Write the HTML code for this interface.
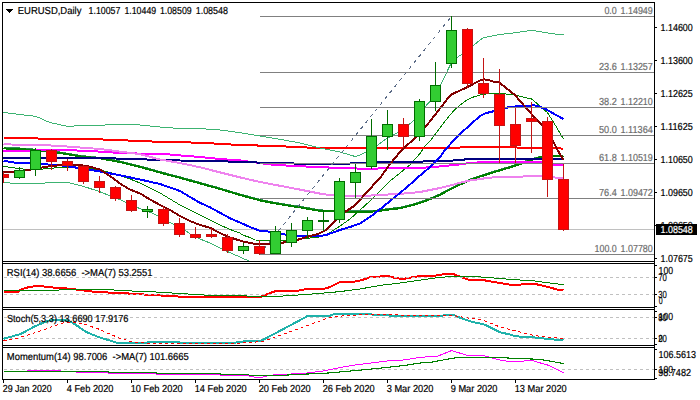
<!DOCTYPE html>
<html><head><meta charset="utf-8"><title>EURUSD Daily</title>
<style>html,body{margin:0;padding:0;background:#fff;overflow:hidden}svg{display:block;font-family:'Liberation Sans', sans-serif;}text{white-space:pre;stroke-width:0.2px;text-rendering:geometricPrecision}</style></head><body>
<svg width="700" height="400" viewBox="0 0 700 400" shape-rendering="crispEdges">
<rect width="700" height="400" fill="#fff"/>
<defs><clipPath id="cm"><rect x="3" y="3" width="651" height="258.2"/></clipPath><clipPath id="cr"><rect x="3" y="264" width="651" height="43"/></clipPath><clipPath id="cs"><rect x="3" y="310" width="651" height="35"/></clipPath><clipPath id="cq"><rect x="3" y="348" width="651" height="31.2"/></clipPath></defs>
<g clip-path="url(#cm)">
<line x1="3" y1="229.5" x2="654" y2="229.5" stroke="#c0c0c0" stroke-width="1"/>
<polyline points="3.5,166.2 10.0,167.4 20.0,168.7 28.0,169.6 40.0,169.2 48.0,168.7 60.0,167.4 70.0,167.0 85.0,167.6 100.0,170.0 112.0,173.0 130.0,179.0 140.0,183.0 160.0,193.0 180.0,205.0 200.0,215.0 220.0,225.0 230.0,229.5 240.0,233.0 242.6,235.0 250.0,237.5 255.0,240.0 262.7,240.2 269.0,240.8 286.0,240.0 300.0,239.0 306.7,238.3 310.0,238.0 318.0,237.4 320.0,236.6 326.0,235.0 340.0,226.0 350.0,219.0 360.0,210.0 370.0,201.0 380.0,191.0 390.0,181.0 400.0,173.0 410.0,164.8 420.0,153.5 425.0,146.0 430.0,141.0 440.0,128.0 446.0,120.0 450.0,115.0 455.0,109.3 460.0,105.2 465.0,101.3 470.0,98.3 475.0,96.5 480.0,95.0 490.0,93.4 500.0,93.4 510.0,94.4 515.5,95.2 531.5,99.0 539.5,105.5 547.5,112.7 555.5,125.5 563.5,139.0" fill="none" stroke="#008000" stroke-width="1" stroke-linejoin="round" />
<polyline points="3.5,147.9 20.0,148.5 50.0,150.9 66.0,153.5 80.0,155.9 100.0,157.9 120.0,161.5 140.0,166.4 160.0,172.1 180.0,177.3 200.0,182.9 220.0,188.5 240.0,194.5 260.0,199.9 270.0,201.9 280.0,203.7 300.0,206.9 320.0,210.3 330.0,210.9 350.0,211.3 370.0,211.4 380.0,210.2 390.0,208.9 400.0,207.7 410.0,205.4 420.0,202.4 430.0,198.7 440.0,194.4 450.0,188.9 460.0,184.1 470.0,179.6 480.0,176.1 490.0,172.9 500.0,169.9 510.0,166.9 520.0,163.5 530.0,159.9 540.0,156.9 555.0,155.9 563.5,155.6" fill="none" stroke="#2e8b57" stroke-width="2.0" stroke-linejoin="round" />
<polyline points="3.5,148.4 20.0,149.0 50.0,151.4 66.0,154.0 80.0,156.4 100.0,158.4 120.0,162.0 140.0,166.9 160.0,172.6 180.0,177.8 200.0,183.4 220.0,189.0 240.0,195.0 260.0,200.4 270.0,202.4 280.0,204.2 300.0,207.4 320.0,210.8 330.0,211.4 350.0,211.8 370.0,211.9 380.0,210.7 390.0,209.4 400.0,208.2 410.0,205.9 420.0,202.9 430.0,199.2 440.0,194.9 450.0,189.4 460.0,184.6 470.0,180.1 480.0,176.6 490.0,173.4 500.0,170.4 510.0,167.4 520.0,164.0 530.0,160.4 540.0,157.4 555.0,156.4 563.5,156.1" fill="none" stroke="#008000" stroke-width="2.0" stroke-linejoin="round" />
<polyline points="3.5,151.0 30.0,150.8 40.0,150.2 66.0,150.0 100.0,151.6 120.0,153.0 140.0,153.6 164.0,154.0 180.0,155.4 200.0,157.0 220.0,159.0 240.0,160.4 270.0,164.4 280.0,165.2 308.0,166.6 340.0,168.0 360.0,168.6 400.0,168.4 420.0,168.0 440.0,166.4 460.0,164.4 470.0,162.8 484.0,162.2 500.0,162.0 531.5,162.0 541.0,162.3 547.5,164.2 553.5,164.7 563.5,164.8" fill="none" stroke="#ff00ff" stroke-width="2.0" stroke-linejoin="round" />
<polyline points="3.5,158.0 100.0,158.2 115.5,158.5 130.0,158.9 147.0,159.5 180.0,160.5 228.0,161.5 260.0,162.6 280.0,163.0 308.0,164.0 340.0,164.0 360.0,163.0 390.0,162.0 420.0,161.6 452.0,160.6 468.0,159.2 500.0,159.0 563.5,159.0" fill="none" stroke="#000080" stroke-width="2.0" stroke-linejoin="round" />
<polyline points="3.5,144.2 11.0,144.5 51.0,145.5 67.0,146.5 100.0,149.0 120.0,151.6 140.0,154.2 160.0,159.5 180.0,163.0 200.0,167.3 220.0,172.4 240.0,177.4 260.0,182.0 280.0,185.8 300.0,189.6 320.0,193.6 330.0,195.2 345.0,196.0 365.0,195.8 371.0,195.5 388.0,194.5 400.0,193.9 420.0,192.0 430.0,190.0 440.0,188.0 450.0,185.5 460.0,182.8 470.0,180.5 480.0,179.0 490.0,177.6 500.0,177.2 520.0,176.6 540.0,176.0 555.0,177.5 563.5,178.0" fill="none" stroke="#ee82ee" stroke-width="2.0" stroke-linejoin="round" />
<polyline points="3.5,138.0 36.0,138.0 40.0,139.0 100.0,139.4 130.0,140.6 140.0,141.0 164.0,142.0 196.0,142.6 212.0,143.4 228.0,144.4 260.0,145.6 280.0,146.0 292.0,147.0 322.0,148.0 360.0,148.0 420.0,148.0 450.0,148.0 462.0,147.4 500.0,147.3 540.0,147.8 563.5,148.6" fill="none" stroke="#ff0000" stroke-width="2.0" stroke-linejoin="round" />
<polyline points="3.5,160.8 8.0,161.5 14.0,162.5 30.0,163.4 43.0,164.2 60.0,165.2 66.0,166.0 80.0,168.2 100.0,171.5 120.0,175.3 140.0,179.5 160.0,184.0 180.0,191.0 190.0,197.0 200.0,202.8 210.0,207.3 220.0,212.8 230.0,218.2 240.0,222.6 250.0,227.0 260.0,230.8 270.0,231.7 275.5,232.2 286.0,234.7 291.5,235.8 297.0,235.8 313.0,236.0 320.0,236.0 326.0,235.0 340.0,230.0 350.0,227.0 360.0,223.4 370.0,217.0 380.0,209.3 390.0,201.0 400.0,193.0 410.0,184.5 420.0,175.5 430.0,167.0 440.0,157.2 445.0,150.0 450.0,144.5 460.0,134.0 470.0,125.0 480.0,116.0 485.0,113.6 490.0,112.0 495.0,111.0 505.0,108.0 510.0,107.0 520.0,106.0 530.0,105.6 535.0,105.4 540.0,107.0 545.0,108.8 550.0,111.6 555.0,114.5 563.5,119.0" fill="none" stroke="#0000ff" stroke-width="2.0" stroke-linejoin="round" />
<polyline points="3.5,172.0 20.0,171.3 36.0,168.6 50.0,166.2 66.0,164.6 80.0,165.0 90.0,166.6 100.0,169.6 110.0,176.0 120.0,183.6 130.0,189.6 140.0,193.4 150.0,199.5 160.0,205.0 170.0,210.0 180.0,216.0 190.0,221.0 200.0,225.0 210.0,227.8 220.0,233.0 230.0,237.6 232.8,238.3 242.6,241.4 255.2,244.0 267.7,244.0 281.0,243.0 286.0,242.0 297.0,240.0 305.5,237.4 318.0,233.9 326.0,230.0 334.0,222.0 345.0,212.0 354.0,206.0 360.0,200.0 365.0,194.0 370.0,189.0 375.0,183.0 380.0,178.0 390.0,164.0 400.0,152.0 403.5,148.5 410.0,142.6 414.0,139.0 419.5,134.0 425.0,127.5 431.0,120.0 435.5,114.2 441.0,107.1 450.0,95.6 451.5,94.4 460.0,90.5 467.5,87.1 476.0,82.5 480.0,80.6 483.5,79.3 487.0,79.7 493.0,81.5 499.5,82.5 503.0,85.5 510.0,91.0 515.5,95.5 520.0,101.0 524.0,105.5 527.5,109.5 531.5,113.9 540.0,123.3 547.5,131.6 553.0,141.0 557.0,149.0 563.5,160.0" fill="none" stroke="#800000" stroke-width="2.0" stroke-linejoin="round" />
<polyline points="3.5,112.4 19.5,114.5 36.0,116.4 50.0,122.6 66.0,126.0 74.0,126.0 100.0,125.6 110.0,124.4 131.5,124.4 140.0,125.0 160.0,127.0 180.0,128.6 200.0,128.6 220.0,130.0 240.0,132.6 260.0,136.0 280.0,139.3 300.0,143.0 320.0,148.0 340.0,152.0 355.5,156.6 360.0,155.0 366.0,152.0 371.5,149.6 378.0,145.0 385.0,139.5 387.5,138.4 395.0,134.0 400.0,131.0 403.5,129.0 409.0,124.6 414.2,120.0 419.5,114.5 425.0,106.8 430.3,101.1 435.5,95.0 441.0,83.8 450.3,65.0 451.5,62.5 457.0,57.5 462.3,54.0 467.5,50.4 473.0,45.8 480.5,39.6 483.5,37.6 490.0,36.4 499.5,34.4 510.0,33.4 515.5,32.7 520.0,32.0 531.5,30.3 540.0,31.6 547.5,33.0 550.0,33.4 563.5,35.0" fill="none" stroke="#3cb371" stroke-width="1" stroke-linejoin="round" />
<polyline points="3.5,182.4 19.5,184.0 35.5,183.3 51.5,182.8 67.5,182.5 75.0,184.2 83.5,186.4 99.5,191.6 115.5,198.0 120.0,199.6 131.5,205.5 140.0,208.5 147.5,211.5 152.0,213.0 163.5,219.0 172.0,223.5 179.5,227.5 185.0,230.0 190.0,234.0 195.5,236.5 200.0,239.0 210.0,243.0 211.5,243.6 220.0,248.0 227.5,251.6 230.0,252.7 240.0,257.0 243.5,258.8 248.0,260.5 259.5,266.0 275.5,270.0" fill="none" stroke="#3cb371" stroke-width="1" stroke-linejoin="round" />
<line x1="259.5" y1="16.5" x2="654" y2="16.5" stroke="#808080" stroke-width="1"/>
<line x1="259.5" y1="72.5" x2="654" y2="72.5" stroke="#808080" stroke-width="1"/>
<line x1="259.5" y1="107.5" x2="654" y2="107.5" stroke="#808080" stroke-width="1"/>
<line x1="259.5" y1="135.5" x2="654" y2="135.5" stroke="#808080" stroke-width="1"/>
<line x1="259.5" y1="163.5" x2="654" y2="163.5" stroke="#808080" stroke-width="1"/>
<line x1="259.5" y1="198.5" x2="654" y2="198.5" stroke="#808080" stroke-width="1"/>
<line x1="259.5" y1="254.5" x2="654" y2="254.5" stroke="#808080" stroke-width="1"/>
<line x1="259.5" y1="254.4" x2="451.5" y2="16.4" stroke="#5a6a86" stroke-width="1" stroke-dasharray="3.2 4.5" stroke-dashoffset="0.4"/>
<line x1="3.5" y1="172.0" x2="3.5" y2="183.0" stroke="#c41414" stroke-width="1.1"/>
<rect x="-1.5" y="174.1" width="9.8" height="3.0" fill="#ff0000" stroke="#c41414" stroke-width="1"/>
<line x1="19.5" y1="167.0" x2="19.5" y2="178.8" stroke="#006c00" stroke-width="1.1"/>
<rect x="14.5" y="170.5" width="9.8" height="6.6" fill="#32cd32" stroke="#006c00" stroke-width="1"/>
<line x1="35.5" y1="148.0" x2="35.5" y2="175.6" stroke="#006c00" stroke-width="1.1"/>
<rect x="30.5" y="150.1" width="9.8" height="19.8" fill="#32cd32" stroke="#006c00" stroke-width="1"/>
<line x1="51.5" y1="148.6" x2="51.5" y2="169.6" stroke="#c41414" stroke-width="1.1"/>
<rect x="46.5" y="150.5" width="9.8" height="10.6" fill="#ff0000" stroke="#c41414" stroke-width="1"/>
<line x1="67.5" y1="158.6" x2="67.5" y2="170.8" stroke="#c41414" stroke-width="1.1"/>
<rect x="62.5" y="161.7" width="9.8" height="4.1" fill="#ff0000" stroke="#c41414" stroke-width="1"/>
<line x1="83.5" y1="165.0" x2="83.5" y2="183.6" stroke="#c41414" stroke-width="1.1"/>
<rect x="78.5" y="166.5" width="9.8" height="14.6" fill="#ff0000" stroke="#c41414" stroke-width="1"/>
<line x1="99.5" y1="176.4" x2="99.5" y2="192.6" stroke="#c41414" stroke-width="1.1"/>
<rect x="94.5" y="181.9" width="9.8" height="5.2" fill="#ff0000" stroke="#c41414" stroke-width="1"/>
<line x1="115.5" y1="186.0" x2="115.5" y2="200.6" stroke="#c41414" stroke-width="1.1"/>
<rect x="110.5" y="187.9" width="9.8" height="10.2" fill="#ff0000" stroke="#c41414" stroke-width="1"/>
<line x1="131.5" y1="195.0" x2="131.5" y2="211.6" stroke="#c41414" stroke-width="1.1"/>
<rect x="126.5" y="200.5" width="9.8" height="9.6" fill="#ff0000" stroke="#c41414" stroke-width="1"/>
<line x1="147.5" y1="206.0" x2="147.5" y2="217.6" stroke="#006c00" stroke-width="1.1"/>
<rect x="142.5" y="209.5" width="9.8" height="1.6" fill="#32cd32" stroke="#006c00" stroke-width="1"/>
<line x1="163.5" y1="205.6" x2="163.5" y2="225.8" stroke="#c41414" stroke-width="1.1"/>
<rect x="158.5" y="209.7" width="9.8" height="13.7" fill="#ff0000" stroke="#c41414" stroke-width="1"/>
<line x1="179.5" y1="218.4" x2="179.5" y2="236.8" stroke="#c41414" stroke-width="1.1"/>
<rect x="174.5" y="223.5" width="9.8" height="10.8" fill="#ff0000" stroke="#c41414" stroke-width="1"/>
<line x1="195.5" y1="227.0" x2="195.5" y2="238.6" stroke="#c41414" stroke-width="1.1"/>
<rect x="190.5" y="234.9" width="9.8" height="2.2" fill="#ff0000" stroke="#c41414" stroke-width="1"/>
<line x1="211.5" y1="228.0" x2="211.5" y2="238.0" stroke="#c41414" stroke-width="1.1"/>
<rect x="206.5" y="234.9" width="9.8" height="1.2" fill="#ff0000" stroke="#c41414" stroke-width="1"/>
<line x1="227.5" y1="234.0" x2="227.5" y2="252.6" stroke="#c41414" stroke-width="1.1"/>
<rect x="222.5" y="237.1" width="9.8" height="13.3" fill="#ff0000" stroke="#c41414" stroke-width="1"/>
<line x1="243.5" y1="243.0" x2="243.5" y2="253.7" stroke="#006c00" stroke-width="1.1"/>
<rect x="238.5" y="246.9" width="9.8" height="3.2" fill="#32cd32" stroke="#006c00" stroke-width="1"/>
<line x1="259.5" y1="240.2" x2="259.5" y2="255.0" stroke="#c41414" stroke-width="1.1"/>
<rect x="254.5" y="246.9" width="9.8" height="6.3" fill="#ff0000" stroke="#c41414" stroke-width="1"/>
<line x1="275.5" y1="226.0" x2="275.5" y2="253.9" stroke="#006c00" stroke-width="1.1"/>
<rect x="270.5" y="231.9" width="9.8" height="21.3" fill="#32cd32" stroke="#006c00" stroke-width="1"/>
<line x1="291.5" y1="223.2" x2="291.5" y2="246.7" stroke="#006c00" stroke-width="1.1"/>
<rect x="286.5" y="230.8" width="9.8" height="12.0" fill="#32cd32" stroke="#006c00" stroke-width="1"/>
<line x1="307.5" y1="216.9" x2="307.5" y2="238.0" stroke="#006c00" stroke-width="1.1"/>
<rect x="302.5" y="220.8" width="9.8" height="9.4" fill="#32cd32" stroke="#006c00" stroke-width="1"/>
<line x1="323.5" y1="210.4" x2="323.5" y2="231.0" stroke="#006c00" stroke-width="1.1"/>
<rect x="318.5" y="220.5" width="9.8" height="0.6" fill="#32cd32" stroke="#006c00" stroke-width="1"/>
<line x1="339.5" y1="178.0" x2="339.5" y2="222.6" stroke="#006c00" stroke-width="1.1"/>
<rect x="334.5" y="181.5" width="9.8" height="38.4" fill="#32cd32" stroke="#006c00" stroke-width="1"/>
<line x1="355.5" y1="163.6" x2="355.5" y2="197.6" stroke="#006c00" stroke-width="1.1"/>
<rect x="350.5" y="172.7" width="9.8" height="9.8" fill="#32cd32" stroke="#006c00" stroke-width="1"/>
<line x1="371.5" y1="119.0" x2="371.5" y2="168.6" stroke="#006c00" stroke-width="1.1"/>
<rect x="366.5" y="136.9" width="9.8" height="29.5" fill="#32cd32" stroke="#006c00" stroke-width="1"/>
<line x1="387.5" y1="110.2" x2="387.5" y2="149.6" stroke="#006c00" stroke-width="1.1"/>
<rect x="382.5" y="124.0" width="9.8" height="12.4" fill="#32cd32" stroke="#006c00" stroke-width="1"/>
<line x1="403.5" y1="118.0" x2="403.5" y2="148.0" stroke="#c41414" stroke-width="1.1"/>
<rect x="398.5" y="124.8" width="9.8" height="11.6" fill="#ff0000" stroke="#c41414" stroke-width="1"/>
<line x1="419.5" y1="99.0" x2="419.5" y2="141.0" stroke="#006c00" stroke-width="1.1"/>
<rect x="414.5" y="101.8" width="9.8" height="34.6" fill="#32cd32" stroke="#006c00" stroke-width="1"/>
<line x1="435.5" y1="62.0" x2="435.5" y2="110.8" stroke="#006c00" stroke-width="1.1"/>
<rect x="430.5" y="85.6" width="9.8" height="15.8" fill="#32cd32" stroke="#006c00" stroke-width="1"/>
<line x1="451.5" y1="16.2" x2="451.5" y2="68.0" stroke="#006c00" stroke-width="1.1"/>
<rect x="446.5" y="30.7" width="9.8" height="33.2" fill="#32cd32" stroke="#006c00" stroke-width="1"/>
<line x1="467.5" y1="28.0" x2="467.5" y2="88.0" stroke="#c41414" stroke-width="1.1"/>
<rect x="462.5" y="29.7" width="9.8" height="54.2" fill="#ff0000" stroke="#c41414" stroke-width="1"/>
<line x1="483.5" y1="58.0" x2="483.5" y2="97.6" stroke="#c41414" stroke-width="1.1"/>
<rect x="478.5" y="83.5" width="9.8" height="10.4" fill="#ff0000" stroke="#c41414" stroke-width="1"/>
<line x1="499.5" y1="69.0" x2="499.5" y2="163.0" stroke="#c41414" stroke-width="1.1"/>
<rect x="494.5" y="94.5" width="9.8" height="31.0" fill="#ff0000" stroke="#c41414" stroke-width="1"/>
<line x1="515.5" y1="108.0" x2="515.5" y2="163.0" stroke="#c41414" stroke-width="1.1"/>
<rect x="510.5" y="124.9" width="9.8" height="20.4" fill="#ff0000" stroke="#c41414" stroke-width="1"/>
<line x1="531.5" y1="102.0" x2="531.5" y2="152.8" stroke="#c41414" stroke-width="1.1"/>
<rect x="526.5" y="118.7" width="9.8" height="2.3" fill="#ff0000" stroke="#c41414" stroke-width="1"/>
<line x1="547.5" y1="117.0" x2="547.5" y2="196.5" stroke="#c41414" stroke-width="1.1"/>
<rect x="542.5" y="121.8" width="9.8" height="57.2" fill="#ff0000" stroke="#c41414" stroke-width="1"/>
<line x1="563.5" y1="164.0" x2="563.5" y2="231.0" stroke="#c41414" stroke-width="1.1"/>
<rect x="558.5" y="179.8" width="9.8" height="49.3" fill="#ff0000" stroke="#c41414" stroke-width="1"/>
<text x="652.8" y="14.0" text-anchor="end" fill="#6c6c6c" stroke="#6c6c6c" font-size="10.2" textLength="32.3" lengthAdjust="spacingAndGlyphs" >1.14949</text>
<text x="604.4" y="14.0" text-anchor="start" fill="#6c6c6c" stroke="#6c6c6c" font-size="10.2" textLength="12.4" lengthAdjust="spacingAndGlyphs" >0.0</text>
<text x="652.8" y="70.0" text-anchor="end" fill="#6c6c6c" stroke="#6c6c6c" font-size="10.2" textLength="32.3" lengthAdjust="spacingAndGlyphs" >1.13257</text>
<text x="599.0" y="70.0" text-anchor="start" fill="#6c6c6c" stroke="#6c6c6c" font-size="10.2" textLength="17.8" lengthAdjust="spacingAndGlyphs" >23.6</text>
<text x="652.8" y="105.0" text-anchor="end" fill="#6c6c6c" stroke="#6c6c6c" font-size="10.2" textLength="32.3" lengthAdjust="spacingAndGlyphs" >1.12210</text>
<text x="599.0" y="105.0" text-anchor="start" fill="#6c6c6c" stroke="#6c6c6c" font-size="10.2" textLength="17.8" lengthAdjust="spacingAndGlyphs" >38.2</text>
<text x="652.8" y="133.0" text-anchor="end" fill="#6c6c6c" stroke="#6c6c6c" font-size="10.2" textLength="32.3" lengthAdjust="spacingAndGlyphs" >1.11364</text>
<text x="599.0" y="133.0" text-anchor="start" fill="#6c6c6c" stroke="#6c6c6c" font-size="10.2" textLength="17.8" lengthAdjust="spacingAndGlyphs" >50.0</text>
<text x="652.8" y="161.0" text-anchor="end" fill="#6c6c6c" stroke="#6c6c6c" font-size="10.2" textLength="32.3" lengthAdjust="spacingAndGlyphs" >1.10519</text>
<text x="599.0" y="161.0" text-anchor="start" fill="#6c6c6c" stroke="#6c6c6c" font-size="10.2" textLength="17.8" lengthAdjust="spacingAndGlyphs" >61.8</text>
<text x="652.8" y="196.0" text-anchor="end" fill="#6c6c6c" stroke="#6c6c6c" font-size="10.2" textLength="32.3" lengthAdjust="spacingAndGlyphs" >1.09472</text>
<text x="599.0" y="196.0" text-anchor="start" fill="#6c6c6c" stroke="#6c6c6c" font-size="10.2" textLength="17.8" lengthAdjust="spacingAndGlyphs" >76.4</text>
<text x="652.8" y="252.0" text-anchor="end" fill="#6c6c6c" stroke="#6c6c6c" font-size="10.2" textLength="32.3" lengthAdjust="spacingAndGlyphs" >1.07780</text>
<text x="594.5" y="252.0" text-anchor="start" fill="#6c6c6c" stroke="#6c6c6c" font-size="10.2" textLength="22.3" lengthAdjust="spacingAndGlyphs" >100.0</text>
</g>
<g clip-path="url(#cr)">
<polyline points="3.5,292.0 18.0,292.0 20.0,290.0 25.0,288.0 30.0,287.0 35.0,286.1 42.0,286.1 47.0,287.0 59.0,288.0 71.0,288.8 80.0,290.0 90.0,291.4 100.0,292.0 115.0,293.0 131.0,293.6 140.0,294.0 148.0,295.0 163.0,295.6 180.0,296.6 260.0,297.0 263.0,296.0 270.0,293.0 276.0,291.0 298.0,291.0 300.0,290.0 308.0,289.0 325.0,288.6 330.0,287.0 340.0,282.0 355.0,281.6 362.0,280.0 372.0,276.6 390.0,276.4 395.0,278.0 400.0,278.6 405.0,278.6 412.0,277.4 420.0,276.0 435.0,275.6 445.0,274.0 453.0,274.0 460.0,276.6 468.0,279.6 483.0,280.0 490.0,281.4 500.0,283.0 510.0,284.6 520.0,284.6 533.0,283.6 540.0,285.0 548.0,287.0 553.0,288.4 558.0,289.8 563.5,290.0" fill="none" stroke="#ff0000" stroke-width="2.0" stroke-linejoin="round" />
<line x1="4" y1="277.5" x2="654" y2="277.5" stroke="#c0c0c0" stroke-width="1" stroke-dasharray="3 3"/>
<line x1="4" y1="294.5" x2="654" y2="294.5" stroke="#c0c0c0" stroke-width="1" stroke-dasharray="3 3"/>
<polyline points="3.5,290.5 58.5,290.5 59.5,289.5 105.0,289.5 120.0,290.3 132.0,291.0 140.0,291.5 155.5,291.5 156.5,292.5 171.5,292.5 172.5,293.5 187.5,293.5 188.5,294.5 203.5,294.5 204.5,295.5 240.0,295.8 260.0,296.4 280.0,296.2 298.0,295.0 320.0,293.4 340.0,291.6 360.0,289.0 380.0,285.4 400.0,283.0 420.0,280.2 435.0,278.0 445.0,277.0 460.0,276.6 475.0,276.6 490.0,277.6 500.0,278.6 520.0,280.0 535.0,281.0 545.0,282.4 553.0,283.4 560.0,284.3 563.5,284.7" fill="none" stroke="#008000" stroke-width="1.0" stroke-linejoin="round" />
</g>
<g clip-path="url(#cs)">
<line x1="4" y1="317.5" x2="654" y2="317.5" stroke="#c0c0c0" stroke-width="1" stroke-dasharray="3 3"/>
<line x1="4" y1="338.5" x2="654" y2="338.5" stroke="#c0c0c0" stroke-width="1" stroke-dasharray="3 3"/>
<polyline points="3.5,338.8 12.0,336.5 21.4,333.7 28.0,330.0 34.3,326.6 42.9,323.0 50.0,320.2 67.0,320.2 70.0,321.5 74.0,323.7 80.0,327.7 85.7,331.6 92.0,334.5 100.0,337.5 108.6,340.1 115.7,342.5 118.0,343.0 146.5,343.0 147.5,342.0 179.0,342.0 180.0,343.0 235.0,343.0 237.0,342.2 243.5,341.6 244.5,341.0 259.5,341.1 261.0,340.8 275.5,333.2 291.5,324.7 307.3,316.2 330.0,316.0 332.0,314.6 340.0,314.0 371.0,314.0 373.0,315.0 387.5,315.0 390.0,316.0 420.0,316.0 443.0,315.6 445.0,314.6 453.0,314.6 458.0,317.0 468.0,320.6 475.0,322.6 483.0,324.0 490.0,327.2 500.0,332.2 510.0,334.6 516.0,336.4 530.0,337.0 540.0,338.0 548.0,339.0 555.0,339.6 563.5,340.0" fill="none" stroke="#20b2aa" stroke-width="2.0" stroke-linejoin="round" />
<polyline points="3.5,340.6 14.0,339.1 28.6,334.9 42.9,330.1 57.0,324.9 63.0,323.0 71.4,322.0 78.6,323.0 85.7,324.4 92.9,327.2 100.0,329.5 107.0,333.0 113.0,335.2 118.6,338.0 124.3,339.5 131.4,341.6 137.0,342.3 141.0,342.8 150.0,343.5 235.0,343.5 243.0,342.8 260.0,341.8 263.0,341.5 270.0,339.0 276.0,336.9 280.0,335.4 287.0,332.9 300.0,328.2 310.0,324.6 320.0,320.9 330.0,317.4 335.0,316.6 350.0,315.4 371.0,314.4 395.0,314.4 405.0,315.4 420.0,315.5 445.0,316.0 453.0,315.5 460.0,316.6 468.0,318.0 475.0,319.0 483.0,320.0 490.0,323.0 500.0,327.0 510.0,329.6 516.0,331.0 530.0,334.6 540.0,336.4 548.0,337.4 563.5,338.4" fill="none" stroke="#ff0000" stroke-width="1.0" stroke-linejoin="round" stroke-dasharray="3 3"/>
</g>
<g clip-path="url(#cq)">
<line x1="4" y1="369.5" x2="654" y2="369.5" stroke="#c0c0c0" stroke-width="1" stroke-dasharray="3 3"/>
<polyline points="3.5,371.5 27.0,371.5 27.5,370.5 60.0,370.5 60.5,371.5 76.0,371.5 76.5,372.5 108.0,372.5 108.5,373.5 156.0,373.5 156.5,374.5 220.0,374.5 220.5,375.5 247.0,375.5 250.0,376.4 256.0,377.3 261.0,377.4 265.0,376.4 270.0,375.4 275.5,374.6 280.0,374.8 291.5,374.0 307.5,373.0 323.5,371.0 339.5,367.6 355.5,365.0 371.5,363.0 387.5,361.0 403.5,360.0 420.0,357.4 430.0,356.6 437.0,356.4 451.5,350.6 467.5,355.4 483.5,355.6 499.5,360.0 508.0,361.4 523.0,361.4 525.0,360.4 531.5,360.4 547.5,365.0 563.5,372.6" fill="none" stroke="#ff00ff" stroke-width="1.0" stroke-linejoin="round" stroke-linejoin="miter"/>
<polyline points="3.5,371.5 108.0,371.5 108.5,372.5 156.0,372.5 156.5,373.5 220.0,373.5 220.5,374.5 247.0,374.5 250.0,375.2 265.0,375.5 280.0,375.5 291.5,374.8 307.5,374.0 323.5,373.4 339.5,372.0 355.5,370.6 371.5,369.0 387.5,367.4 403.5,365.6 420.0,363.0 430.0,362.4 440.0,360.6 451.5,358.4 460.0,357.4 467.5,357.2 483.5,357.4 499.5,357.6 515.5,358.4 531.5,359.0 540.0,359.4 547.5,360.6 563.5,363.6" fill="none" stroke="#008000" stroke-width="1.1" stroke-linejoin="round" />
</g>
<line x1="2.5" y1="2" x2="2.5" y2="380" stroke="#000" stroke-width="1"/>
<line x1="654.5" y1="2" x2="654.5" y2="380" stroke="#000" stroke-width="1"/>
<line x1="2" y1="2.5" x2="655" y2="2.5" stroke="#000" stroke-width="1"/>
<line x1="2" y1="261.5" x2="655" y2="261.5" stroke="#000" stroke-width="1"/>
<line x1="2" y1="263.5" x2="655" y2="263.5" stroke="#000" stroke-width="1"/>
<line x1="2" y1="307.5" x2="655" y2="307.5" stroke="#000" stroke-width="1"/>
<line x1="2" y1="309.5" x2="655" y2="309.5" stroke="#000" stroke-width="1"/>
<line x1="2" y1="345.5" x2="655" y2="345.5" stroke="#000" stroke-width="1"/>
<line x1="2" y1="347.5" x2="655" y2="347.5" stroke="#000" stroke-width="1"/>
<line x1="2" y1="379.5" x2="655" y2="379.5" stroke="#000" stroke-width="1"/>
<line x1="655" y1="27.5" x2="657.3" y2="27.5" stroke="#000" stroke-width="1"/>
<text x="660.5" y="31.0" text-anchor="start" fill="#000" stroke="#000" font-size="10.2" textLength="32.3" lengthAdjust="spacingAndGlyphs" >1.14600</text>
<line x1="655" y1="60.5" x2="657.3" y2="60.5" stroke="#000" stroke-width="1"/>
<text x="660.5" y="64.0" text-anchor="start" fill="#000" stroke="#000" font-size="10.2" textLength="32.3" lengthAdjust="spacingAndGlyphs" >1.13600</text>
<line x1="655" y1="93.5" x2="657.3" y2="93.5" stroke="#000" stroke-width="1"/>
<text x="660.5" y="97.0" text-anchor="start" fill="#000" stroke="#000" font-size="10.2" textLength="32.3" lengthAdjust="spacingAndGlyphs" >1.12625</text>
<line x1="655" y1="126.5" x2="657.3" y2="126.5" stroke="#000" stroke-width="1"/>
<text x="660.5" y="130.0" text-anchor="start" fill="#000" stroke="#000" font-size="10.2" textLength="32.3" lengthAdjust="spacingAndGlyphs" >1.11625</text>
<line x1="655" y1="159.5" x2="657.3" y2="159.5" stroke="#000" stroke-width="1"/>
<text x="660.5" y="163.0" text-anchor="start" fill="#000" stroke="#000" font-size="10.2" textLength="32.3" lengthAdjust="spacingAndGlyphs" >1.10650</text>
<line x1="655" y1="192.5" x2="657.3" y2="192.5" stroke="#000" stroke-width="1"/>
<text x="660.5" y="196.0" text-anchor="start" fill="#000" stroke="#000" font-size="10.2" textLength="32.3" lengthAdjust="spacingAndGlyphs" >1.09650</text>
<line x1="655" y1="225.5" x2="657.3" y2="225.5" stroke="#000" stroke-width="1"/>
<text x="660.5" y="229.0" text-anchor="start" fill="#000" stroke="#000" font-size="10.2" textLength="32.3" lengthAdjust="spacingAndGlyphs" >1.08650</text>
<line x1="655" y1="258.5" x2="657.3" y2="258.5" stroke="#000" stroke-width="1"/>
<text x="660.5" y="262.0" text-anchor="start" fill="#000" stroke="#000" font-size="10.2" textLength="32.3" lengthAdjust="spacingAndGlyphs" >1.07675</text>
<rect x="656.1" y="224" width="40.9" height="10.7" fill="#000"/>
<text x="660.5" y="233.0" text-anchor="start" fill="#fff" stroke="#fff" font-size="10.2" textLength="32.3" lengthAdjust="spacingAndGlyphs" >1.08548</text>
<line x1="655" y1="265.3" x2="657.3" y2="265.3" stroke="#000" stroke-width="1"/>
<line x1="655" y1="277.5" x2="657.3" y2="277.5" stroke="#000" stroke-width="1"/>
<line x1="655" y1="294.5" x2="657.3" y2="294.5" stroke="#000" stroke-width="1"/>
<line x1="655" y1="306.4" x2="657.3" y2="306.4" stroke="#000" stroke-width="1"/>
<line x1="655" y1="311.2" x2="657.3" y2="311.2" stroke="#000" stroke-width="1"/>
<line x1="655" y1="317.5" x2="657.3" y2="317.5" stroke="#000" stroke-width="1"/>
<line x1="655" y1="338.5" x2="657.3" y2="338.5" stroke="#000" stroke-width="1"/>
<line x1="655" y1="344.4" x2="657.3" y2="344.4" stroke="#000" stroke-width="1"/>
<line x1="655" y1="349.2" x2="657.3" y2="349.2" stroke="#000" stroke-width="1"/>
<line x1="655" y1="369.5" x2="657.3" y2="369.5" stroke="#000" stroke-width="1"/>
<line x1="655" y1="378.2" x2="657.3" y2="378.2" stroke="#000" stroke-width="1"/>
<text x="658.6" y="273.8" text-anchor="start" fill="#000" stroke="#000" font-size="10.2" textLength="14.5" lengthAdjust="spacingAndGlyphs" >100</text>
<text x="658.2" y="280.7" text-anchor="start" fill="#000" stroke="#000" font-size="10.2" textLength="8.6" lengthAdjust="spacingAndGlyphs" >70</text>
<text x="658.2" y="297.6" text-anchor="start" fill="#000" stroke="#000" font-size="10.2" textLength="8.6" lengthAdjust="spacingAndGlyphs" >30</text>
<text x="658.8" y="303.8" text-anchor="start" fill="#000" stroke="#000" font-size="10.2" textLength="3.9" lengthAdjust="spacingAndGlyphs" >0</text>
<text x="658.6" y="319.8" text-anchor="start" fill="#000" stroke="#000" font-size="10.2" textLength="14.5" lengthAdjust="spacingAndGlyphs" >100</text>
<text x="658.2" y="321.2" text-anchor="start" fill="#000" stroke="#000" font-size="10.2" textLength="8.6" lengthAdjust="spacingAndGlyphs" >80</text>
<text x="658.2" y="341.9" text-anchor="start" fill="#000" stroke="#000" font-size="10.2" textLength="8.6" lengthAdjust="spacingAndGlyphs" >20</text>
<text x="658.8" y="341.8" text-anchor="start" fill="#000" stroke="#000" font-size="10.2" textLength="3.9" lengthAdjust="spacingAndGlyphs" >0</text>
<text x="658.6" y="358.1" text-anchor="start" fill="#000" stroke="#000" font-size="10.2" textLength="37.4" lengthAdjust="spacingAndGlyphs" >106.5613</text>
<text x="658.6" y="372.7" text-anchor="start" fill="#000" stroke="#000" font-size="10.2" textLength="14.5" lengthAdjust="spacingAndGlyphs" >100</text>
<text x="658.2" y="375.8" text-anchor="start" fill="#000" stroke="#000" font-size="10.2" textLength="32.8" lengthAdjust="spacingAndGlyphs" >98.7482</text>
<path d="M6 9h7v1h-1v1h-1v1h-1v1h-1v-1h-1v-1h-1v-1h-1z" fill="#000"/>
<text x="17.8" y="14.0" text-anchor="start" fill="#000" stroke="#000" font-size="10.2" textLength="63.6" lengthAdjust="spacingAndGlyphs" >EURUSD,Daily</text>
<text x="88.6" y="14.0" text-anchor="start" fill="#000" stroke="#000" font-size="10.2" textLength="31.8" lengthAdjust="spacingAndGlyphs" >1.10057</text>
<text x="124.4" y="14.0" text-anchor="start" fill="#000" stroke="#000" font-size="10.2" textLength="31.8" lengthAdjust="spacingAndGlyphs" >1.10449</text>
<text x="159.9" y="14.0" text-anchor="start" fill="#000" stroke="#000" font-size="10.2" textLength="31.8" lengthAdjust="spacingAndGlyphs" >1.08509</text>
<text x="195.7" y="14.0" text-anchor="start" fill="#000" stroke="#000" font-size="10.2" textLength="32.3" lengthAdjust="spacingAndGlyphs" >1.08548</text>
<text x="6.8" y="276.0" text-anchor="start" fill="#000" stroke="#000" font-size="10.2" textLength="145.8" lengthAdjust="spacingAndGlyphs" >RSI(14) 38.6656  -&gt;MA(7) 53.2551</text>
<text x="6.9" y="322.0" text-anchor="start" fill="#000" stroke="#000" font-size="10.2" textLength="121.6" lengthAdjust="spacingAndGlyphs" >Stoch(5,3,3) 13.6690 17.9176</text>
<text x="6.8" y="360.0" text-anchor="start" fill="#000" stroke="#000" font-size="10.2" textLength="182.0" lengthAdjust="spacingAndGlyphs" >Momentum(14) 98.7006  -&gt;MA(7) 101.6665</text>
<line x1="3.5" y1="380" x2="3.5" y2="383" stroke="#000" stroke-width="1"/>
<text x="2.7" y="392.4" text-anchor="start" fill="#000" stroke="#000" font-size="10.2" textLength="49.1" lengthAdjust="spacingAndGlyphs" >29 Jan 2020</text>
<line x1="67.5" y1="380" x2="67.5" y2="383" stroke="#000" stroke-width="1"/>
<text x="66.7" y="392.4" text-anchor="start" fill="#000" stroke="#000" font-size="10.2" textLength="46.8" lengthAdjust="spacingAndGlyphs" >4 Feb 2020</text>
<line x1="131.5" y1="380" x2="131.5" y2="383" stroke="#000" stroke-width="1"/>
<text x="130.7" y="392.4" text-anchor="start" fill="#000" stroke="#000" font-size="10.2" textLength="52.0" lengthAdjust="spacingAndGlyphs" >10 Feb 2020</text>
<line x1="195.5" y1="380" x2="195.5" y2="383" stroke="#000" stroke-width="1"/>
<text x="194.7" y="392.4" text-anchor="start" fill="#000" stroke="#000" font-size="10.2" textLength="52.0" lengthAdjust="spacingAndGlyphs" >14 Feb 2020</text>
<line x1="259.5" y1="380" x2="259.5" y2="383" stroke="#000" stroke-width="1"/>
<text x="258.7" y="392.4" text-anchor="start" fill="#000" stroke="#000" font-size="10.2" textLength="52.0" lengthAdjust="spacingAndGlyphs" >20 Feb 2020</text>
<line x1="323.5" y1="380" x2="323.5" y2="383" stroke="#000" stroke-width="1"/>
<text x="322.7" y="392.4" text-anchor="start" fill="#000" stroke="#000" font-size="10.2" textLength="52.0" lengthAdjust="spacingAndGlyphs" >26 Feb 2020</text>
<line x1="387.5" y1="380" x2="387.5" y2="383" stroke="#000" stroke-width="1"/>
<text x="386.7" y="392.4" text-anchor="start" fill="#000" stroke="#000" font-size="10.2" textLength="46.8" lengthAdjust="spacingAndGlyphs" >3 Mar 2020</text>
<line x1="451.5" y1="380" x2="451.5" y2="383" stroke="#000" stroke-width="1"/>
<text x="450.7" y="392.4" text-anchor="start" fill="#000" stroke="#000" font-size="10.2" textLength="46.8" lengthAdjust="spacingAndGlyphs" >9 Mar 2020</text>
<line x1="515.5" y1="380" x2="515.5" y2="383" stroke="#000" stroke-width="1"/>
<text x="514.7" y="392.4" text-anchor="start" fill="#000" stroke="#000" font-size="10.2" textLength="52.0" lengthAdjust="spacingAndGlyphs" >13 Mar 2020</text>
</svg></body></html>
